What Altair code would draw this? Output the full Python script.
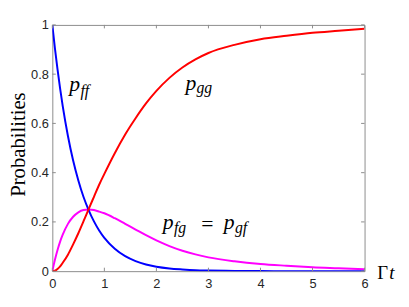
import altair as alt
import pandas as pd

# time axis (Gamma t)
t = [0, 0.05, 0.1, 0.15, 0.2, 0.3, 0.4, 0.5, 0.6, 0.7, 0.8, 0.9, 1.0, 1.2, 1.4,
     1.6, 1.8, 2.0, 2.25, 2.5, 2.75, 3.0, 3.5, 4.0, 4.5, 5.0, 5.5, 6.0]
p_ff = [1.0, 0.905, 0.819, 0.741, 0.670, 0.549, 0.449, 0.368, 0.301, 0.247, 0.202,
        0.165, 0.135, 0.091, 0.061, 0.041, 0.027, 0.018, 0.011, 0.007, 0.004,
        0.0025, 0.001, 0.0003, 0.0001, 0.0, 0.0, 0.0]
p_fg = [0.0, 0.046, 0.086, 0.120, 0.148, 0.192, 0.221, 0.239, 0.248, 0.250, 0.248,
        0.242, 0.235, 0.215, 0.192, 0.169, 0.146, 0.125, 0.102, 0.083, 0.068,
        0.056, 0.040, 0.029, 0.022, 0.016, 0.012, 0.008]
p_gg = [0.0, 0.002, 0.009, 0.019, 0.034, 0.067, 0.109, 0.154, 0.203, 0.253, 0.302,
        0.351, 0.395, 0.479, 0.555, 0.621, 0.681, 0.732, 0.785, 0.827, 0.860,
        0.886, 0.919, 0.942, 0.956, 0.968, 0.976, 0.984]

series_names = ["pfg", "pff", "pgg"]
series_colors = ["#ff00ff", "#0000ff", "#ff0000"]

x_ticks = [0, 1, 2, 3, 4, 5, 6]
y_ticks = [0, 0.2, 0.4, 0.6, 0.8, 1]

W, H = 317, 250
SERIF = "'Liberation Serif', 'Times New Roman', serif"
SANS = "'Liberation Sans', Arial, sans-serif"

rows = []
for name, vals in zip(series_names, [p_fg, p_ff, p_gg]):
    for ti, v in zip(t, vals):
        rows.append({"t": ti, "p": v, "series": name})
df = pd.DataFrame(rows)

xscale = alt.Scale(domain=[0, 6], nice=False)
yscale = alt.Scale(domain=[0, 1], nice=False)

xaxis = alt.Axis(values=x_ticks, title=None, ticks=False, tickSize=0, domain=False,
                 grid=False, labelFont=SANS, labelFontSize=13,
                 labelColor="#262626", labelPadding=7, labelFlush=False)
yaxis = alt.Axis(values=y_ticks, format="~g", title="Probabilities", ticks=False,
                 tickSize=0, domain=False, grid=False, labelFont=SANS,
                 labelFontSize=13, labelColor="#262626", labelPadding=4,
                 labelFlush=False, titleFont=SERIF, titleFontSize=21,
                 titleFontWeight="normal", titleColor="#000000", titleX=-28,
                 titleY=121, titleBaseline="alphabetic", titleAlign="center",
                 titleAngle=270)

def X():
    return alt.X("t:Q", scale=xscale, axis=xaxis, title=None)

def Y():
    return alt.Y("p:Q", scale=yscale, axis=yaxis, title="Probabilities")

lines = alt.Chart(df).mark_line(strokeWidth=2, interpolate="monotone", clip=True).encode(
    x=X(), y=Y(),
    color=alt.Color("series:N", scale=alt.Scale(domain=series_names, range=series_colors),
                    legend=None),
)

xt = pd.DataFrame({"t": x_ticks})
yt = pd.DataFrame({"p": y_ticks})
tick_col = "#8c8c8c"
xb = alt.Chart(xt).mark_rule(color=tick_col, strokeWidth=1).encode(
    x=X(), y=alt.value(H), y2=alt.value(H - 3.5))
xtop = alt.Chart(xt).mark_rule(color=tick_col, strokeWidth=1).encode(
    x=X(), y=alt.value(0), y2=alt.value(3.5))
yl = alt.Chart(yt).mark_rule(color=tick_col, strokeWidth=1).encode(
    y=Y(), x=alt.value(0), x2=alt.value(3.5))
yr = alt.Chart(yt).mark_rule(color=tick_col, strokeWidth=1).encode(
    y=Y(), x=alt.value(W - 3.5), x2=alt.value(W))

main_lbl = pd.DataFrame({"s": ["p", "p", "p", "p"],
                         "t": [0.327, 2.557, 2.123, 3.295],
                         "p": [0.730, 0.734, 0.171, 0.171]})
sub_lbl = pd.DataFrame({"s": ["ff", "gg", "fg", "gf"],
                        "t": [0.54, 2.77, 2.336, 3.508],
                        "p": [0.712, 0.724, 0.155, 0.155]})
op_lbl = pd.DataFrame({"s": ["="], "t": [2.86], "p": [0.163]})

def txt(d, size, style):
    return alt.Chart(d).mark_text(font=SERIF, fontSize=size, fontStyle=style,
                                  align="left", baseline="alphabetic", color="#000000").encode(
        x=X(), y=Y(), text="s:N")

t_main = txt(main_lbl, 22, "italic")
t_sub = txt(sub_lbl, 16, "italic")
t_op = txt(op_lbl, 22, "normal")

gam = alt.Chart(pd.DataFrame({"s": ["Γ"]})).mark_text(
    font=SERIF, fontSize=19, align="left", baseline="alphabetic",
    color="#000000").encode(x=alt.value(330), y=alt.value(258), text="s:N")
tt = alt.Chart(pd.DataFrame({"s": ["t"]})).mark_text(
    font=SERIF, fontSize=19, fontStyle="italic", align="left",
    baseline="alphabetic", color="#000000").encode(x=alt.value(342), y=alt.value(258),
                                                   text="s:N")

chart = alt.layer(lines, xb, xtop, yl, yr, t_main, t_sub, t_op, gam, tt).properties(
    width=W, height=H,
    autosize=alt.AutoSizeParams(type="none"),
    padding={"left": 45, "top": 15, "right": 37, "bottom": 20},
    background="#ffffff",
).configure_view(stroke=tick_col, strokeWidth=1)

chart.save("out.html", embed_options={"renderer": "svg", "actions": False})
